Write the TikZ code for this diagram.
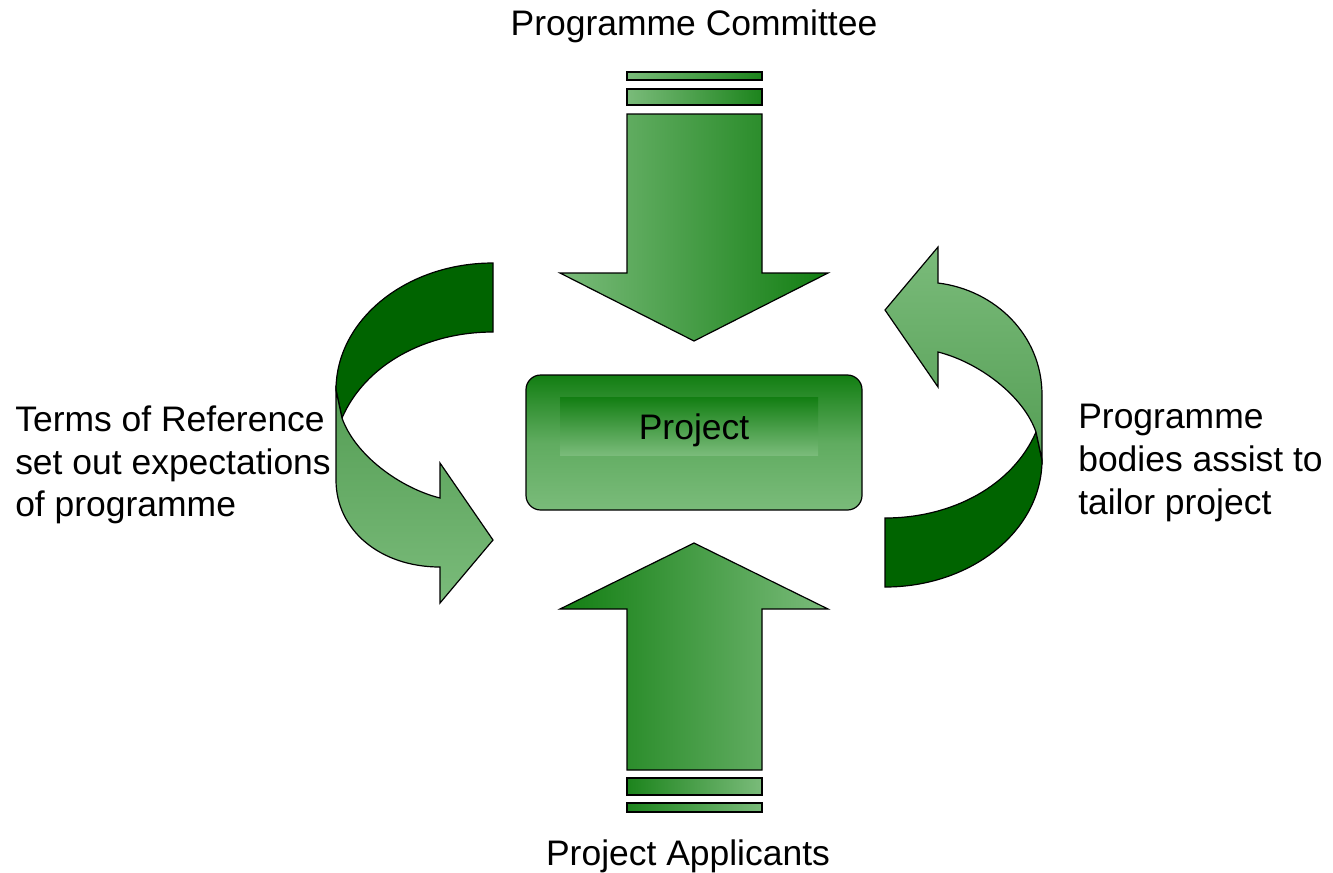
\documentclass[tikz,border=0pt]{standalone}
\usepackage{fontspec}
\setmainfont{Liberation Sans}
\definecolor{lg}{RGB}{122,187,122}
\definecolor{mg}{RGB}{18,126,18}
\definecolor{dg}{RGB}{0,100,0}
\definecolor{sg}{RGB}{85,158,85}
\tikzset{
  outl/.style={draw=black, line width=0.9pt, line join=miter},
  lbl/.style={font=\fontsize{26.6}{32}\selectfont, inner sep=0pt, align=left},
}
\begin{document}
\begin{tikzpicture}[x=0.75pt,y=-0.75pt]
\useasboundingbox (0,0) rectangle (1333,872);
% top arrow
\shadedraw[outl, left color=lg, right color=mg!90!lg] (627,72) rectangle (762,80);
\shadedraw[outl, left color=lg, right color=mg!90!lg] (627,89) rectangle (762,105);
\shadedraw[outl, left color=lg, right color=mg] (627,114) -- (762,114) -- (762,273) -- (828,273) -- (694,341) -- (560,273) -- (627,273) -- cycle;
% bottom arrow
\shadedraw[outl, left color=mg, right color=lg] (627,609) -- (560,609) -- (694,543) -- (828,609) -- (762,609) -- (762,770) -- (627,770) -- cycle;
\shadedraw[outl, left color=mg!90!lg, right color=lg] (627,778) rectangle (762,795);
\shadedraw[outl, left color=mg!90!lg, right color=lg] (627,803) rectangle (762,812);
% left curved arrow
\filldraw[outl, fill=dg] (493,263) -- (493,332) .. controls (425,332) and (365,365) .. (342,418) -- (336,390) .. controls (336,320) and (406,263) .. (493,263) -- cycle;
\shadedraw[outl, top color=sg, bottom color=lg] (336,390) -- (336,480) .. controls (336,530) and (380,567) .. (440,567) -- (440,603) -- (493,540) -- (440,463) -- (440,498) .. controls (400,488) and (355,455) .. (342,418) -- cycle;
% right curved arrow
\filldraw[outl, fill=dg] (885,587) -- (885,518) .. controls (953,518) and (1013,485) .. (1036,432) -- (1042,460) .. controls (1042,530) and (972,587) .. (885,587) -- cycle;
\shadedraw[outl, top color=lg, bottom color=sg] (1042,460) -- (1042,395) .. controls (1042,335) and (995,290) .. (938,283) -- (938,247) -- (885,310) -- (938,387) -- (938,352) .. controls (978,362) and (1023,395) .. (1036,432) -- cycle;
% project box
\shadedraw[outl, rounded corners=11pt, top color=mg, bottom color=lg, middle color=lg!75!mg] (526,375) rectangle (862,510);
\shade[top color=mg, bottom color=lg] (560,397) rectangle (818,455);
\node[lbl] (proj) at (694,430) {Project};
% labels
\node[lbl] (pc) at (694,26) {Programme Committee};
\node[lbl] (pa) at (688,856) {Project Applicants};
\node[lbl, anchor=west] (tor) at (15,465) {Terms of Reference\\set out expectations\\of programme};
\node[lbl, anchor=west] (pb) at (1078,463) {Programme\\bodies assist to\\tailor project};
\end{tikzpicture}
\end{document}
